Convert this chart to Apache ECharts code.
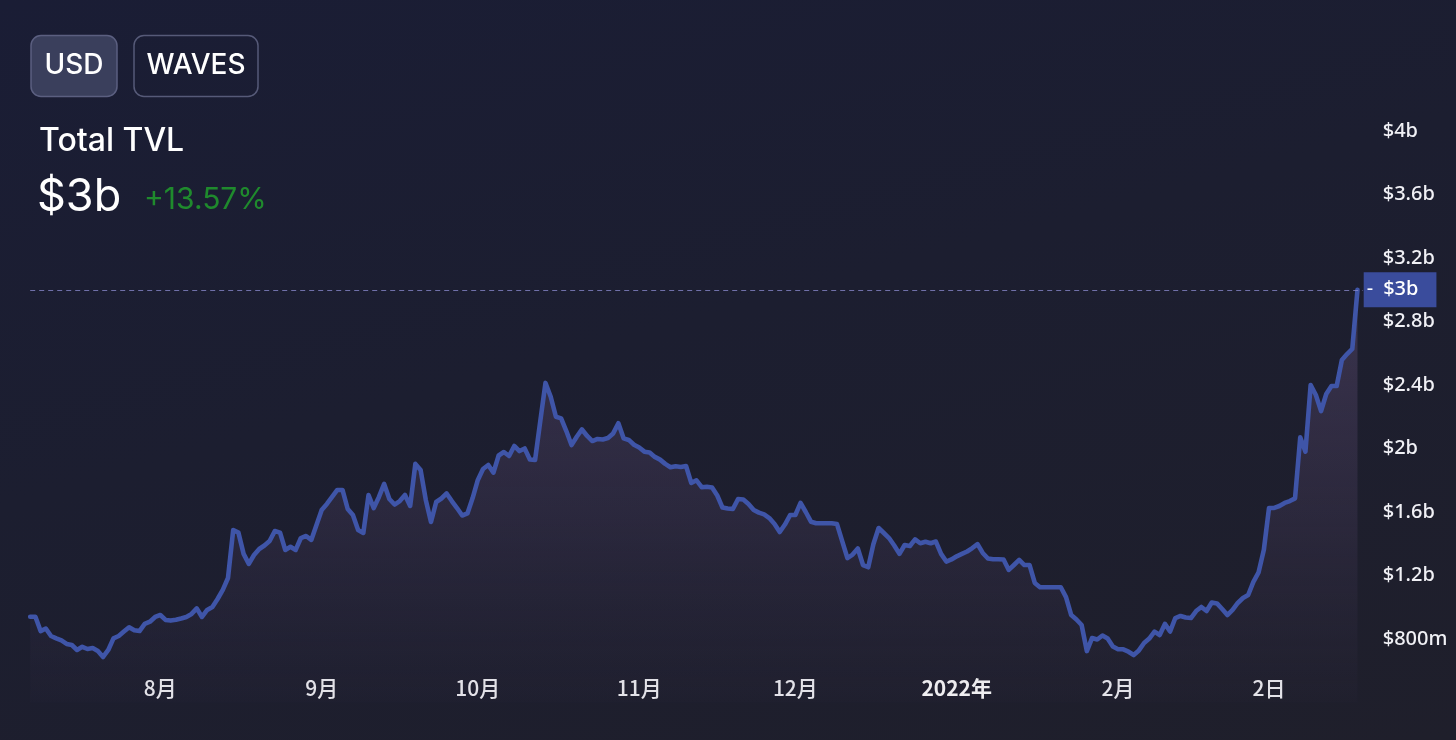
<!DOCTYPE html>
<html>
<head>
<meta charset="utf-8">
<script src="https://cdn.jsdelivr.net/npm/echarts@6/dist/echarts.min.js"></script>
<style>
html,body{margin:0;padding:0;width:1456px;height:740px;overflow:hidden;
background:linear-gradient(165deg,#1a1d35 0%,#1c1e30 45%,#1f1f2b 100%);}
#c{width:1456px;height:740px;}
</style>
</head>
<body>
<div id="c"></div>
<script>
// ---- data (daily TVL, billions USD) ----
const startDate = '2021-07-07';
const endDate = '2022-03-20';
const tvl = [
  0.94,0.94,0.85,0.866,0.819,0.804,0.791,0.769,0.762,0.731,
  0.751,0.737,0.743,0.724,0.687,0.731,0.804,0.819,0.847,0.874,
  0.855,0.85,0.895,0.909,0.939,0.951,0.92,0.916,0.921,0.929,
  0.939,0.958,0.993,0.939,0.983,1.002,1.052,1.109,1.184,1.487,
  1.47,1.336,1.273,1.329,1.367,1.389,1.417,1.48,1.47,1.361,
  1.381,1.361,1.436,1.449,1.424,1.518,1.613,1.651,1.695,1.739,
  1.739,1.619,1.581,1.487,1.468,1.707,1.625,1.695,1.777,1.682,
  1.647,1.669,1.707,1.638,1.903,1.865,1.676,1.537,1.663,1.685,
  1.717,1.669,1.625,1.578,1.591,1.688,1.802,1.871,1.896,1.848,
  1.956,1.978,1.953,2.016,1.984,2.0,1.931,1.928,2.173,2.413,
  2.326,2.2,2.19,2.11,2.022,2.074,2.12,2.079,2.047,2.06,
  2.057,2.066,2.095,2.159,2.064,2.054,2.024,2.006,1.98,1.975,
  1.947,1.93,1.903,1.882,1.888,1.884,1.89,1.783,1.8,1.756,
  1.759,1.754,1.704,1.628,1.622,1.619,1.682,1.679,1.651,1.613,
  1.596,1.585,1.562,1.525,1.474,1.521,1.581,1.581,1.657,1.6,
  1.539,1.529,1.529,1.529,1.529,1.524,1.417,1.31,1.332,1.37,
  1.266,1.252,1.398,1.499,1.468,1.436,1.389,1.336,1.392,1.386,
  1.428,1.403,1.413,1.403,1.414,1.336,1.288,1.301,1.321,1.336,
  1.351,1.373,1.398,1.342,1.307,1.302,1.302,1.301,1.235,1.266,
  1.298,1.266,1.266,1.153,1.126,1.126,1.126,1.126,1.126,1.064,
  0.951,0.923,0.888,0.724,0.806,0.797,0.822,0.803,0.753,0.735,
  0.735,0.72,0.699,0.728,0.775,0.803,0.847,0.825,0.895,0.847,
  0.932,0.945,0.935,0.932,0.976,1.002,0.976,1.03,1.024,0.989,
  0.951,0.983,1.027,1.058,1.077,1.16,1.22,1.36,1.625,1.626,
  1.638,1.657,1.669,1.686,2.07,1.98,2.4,2.337,2.236,2.343,
  2.394,2.394,2.557,2.595,2.627,3.0
];
const tickDates  = ['2021-08-01','2021-09-01','2021-10-01','2021-11-01','2021-12-01','2022-01-01','2022-02-01','2022-03-02'];
const tickLabels = ['8月','9月','10月','11月','12月','2022年','2月','2日'];
const yearLabel = '2022年';
const yTickValues = [0.8,1.2,1.6,2.0,2.4,2.8,3.2,3.6,4.0];
const yTickLabels = ['$800m','$1.2b','$1.6b','$2b','$2.4b','$2.8b','$3.2b','$3.6b','$4b'];
const lastLabel = '$3b';
const headerTitle = 'Total TVL';
const headerValue = '$3b';
const headerChange = '+13.57%';
const buttons = ['USD','WAVES'];

// ---- build ----
const DAY = 86400000;
const t0 = Date.parse(startDate);
const t1 = Date.parse(endDate);
const seriesData = tvl.map((v, i) => [t0 + i * DAY, v]);
const lastValue = tvl[tvl.length - 1];

const chart = echarts.init(document.getElementById('c'), null, {renderer: 'canvas'});
const latin = "'Noto Sans','Noto Sans CJK JP',sans-serif";
const cjk = "'Noto Sans CJK JP','Noto Sans',sans-serif";

chart.setOption({
  backgroundColor: 'transparent',
  animation: false,
  grid: {left: 30.2, right: 93.3, top: 131, bottom: 37.5, outerBoundsMode: 'none', containLabel: false},
  xAxis: {
    type: 'value', min: t0, max: t1, interval: DAY,
    axisLine: {show: false}, axisTick: {show: false}, splitLine: {show: false},
    axisLabel: {
      inside: true, margin: 2, color: '#f2f2f6', fontFamily: cjk, fontSize: 21, fontWeight: 500, lineHeight: 24,
      showMinLabel: true, showMaxLabel: true,
      formatter: function (v) {
        const s = new Date(v).toISOString().slice(0, 10);
        const k = tickDates.indexOf(s);
        if (k < 0) return '';
        return tickLabels[k] === yearLabel ? '{y|' + tickLabels[k] + '}' : tickLabels[k];
      },
      rich: {y: {fontFamily: cjk, fontSize: 21, fontWeight: 'bold', color: '#ffffff', lineHeight: 24}}
    }
  },
  yAxis: {
    type: 'value', position: 'right', min: 0.4, max: 4.0, interval: 0.4,
    axisLine: {show: false}, axisTick: {show: false}, splitLine: {show: false},
    axisLabel: {
      margin: 20, color: '#f0f0f5', fontFamily: latin, fontSize: 20, fontWeight: 500,
      formatter: function (v) {
        for (let i = 0; i < yTickValues.length; i++) {
          if (Math.abs(yTickValues[i] - v) < 1e-6) return yTickLabels[i];
        }
        return '';
      }
    }
  },
  series: [{
    type: 'line',
    data: seriesData,
    showSymbol: false,
    symbol: 'none',
    lineStyle: {color: '#3f55a8', width: 4.6, join: 'round', cap: 'round'},
    areaStyle: {
      color: new echarts.graphic.LinearGradient(0, 0, 0, 1, [
        {offset: 0, color: 'rgba(100,82,122,0.62)'},
        {offset: 0.55, color: 'rgba(80,66,100,0.40)'},
        {offset: 1, color: 'rgba(60,52,80,0.10)'}
      ])
    },
    markLine: {
      silent: true,
      symbol: ['none', 'none'],
      lineStyle: {type: [5, 4], color: 'rgba(140,140,210,0.75)', width: 1},
      label: {
        show: true, position: 'end', distance: 1,
        formatter: '{d|-}{v|' + lastLabel + '}',
        backgroundColor: '#3a4c9c',
        padding: [7, 18, 7, 3],
        rich: {
          d: {color: '#ffffff', fontFamily: latin, fontSize: 20, lineHeight: 21, padding: [0, 10, 0, 0]},
          v: {color: '#ffffff', fontFamily: latin, fontSize: 20, fontWeight: 500, lineHeight: 21}
        }
      },
      data: [{yAxis: lastValue}]
    }
  }],
  graphic: [
    {type: 'rect', shape: {x: 31, y: 35.5, width: 86, height: 61, r: 10},
     style: {fill: '#3a3f5c', stroke: '#5b5f80', lineWidth: 1.5}},
    {type: 'text', style: {text: buttons[0], x: 74, y: 66, textAlign: 'center', textVerticalAlign: 'middle',
      font: '500 28px Inter', fill: '#ffffff'}},
    {type: 'rect', shape: {x: 134, y: 35.5, width: 124, height: 61, r: 10},
     style: {fill: 'rgba(0,0,0,0)', stroke: '#565a78', lineWidth: 1.5}},
    {type: 'text', style: {text: buttons[1], x: 196, y: 66, textAlign: 'center', textVerticalAlign: 'middle',
      font: '500 28px Inter', fill: '#ffffff'}},
    {type: 'text', style: {text: headerTitle, x: 39, y: 141, textAlign: 'left', textVerticalAlign: 'middle',
      font: '500 32px Inter', fill: '#ffffff'}},
    {type: 'text', style: {text: headerValue, x: 37, y: 197, textAlign: 'left', textVerticalAlign: 'middle',
      font: '400 45px Inter', fill: '#ffffff'}},
    {type: 'text', style: {text: headerChange, x: 144, y: 200, textAlign: 'left', textVerticalAlign: 'middle',
      font: '400 30px Inter', fill: '#1f8a2d'}}
  ]
});
</script>
</body>
</html>
